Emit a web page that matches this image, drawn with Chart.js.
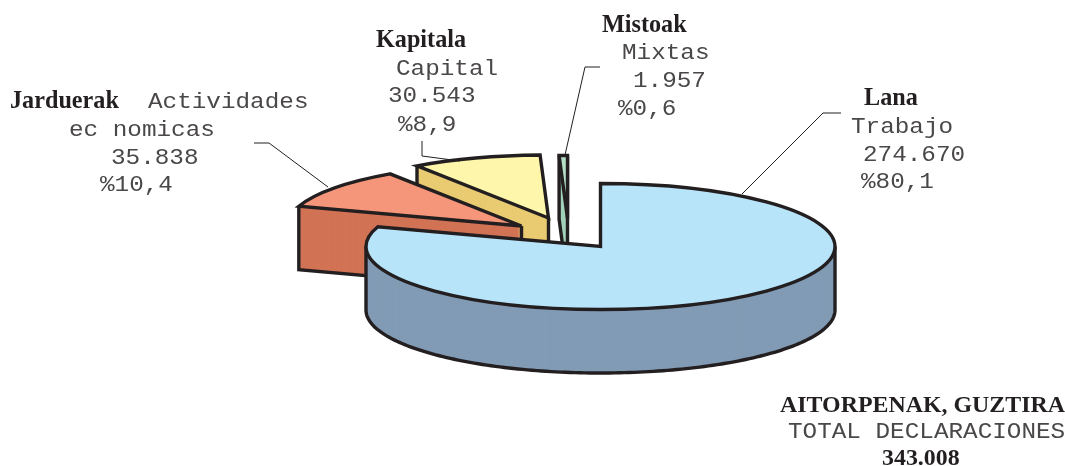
<!DOCTYPE html>
<html><head><meta charset="utf-8">
<style>html,body{margin:0;padding:0;background:#fff;overflow:hidden}#w{position:relative;width:1065px;height:466px}canvas{display:block}</style>
<script src="https://cdn.jsdelivr.net/npm/chart.js@4/dist/chart.umd.min.js"></script>
</head><body><div id="w"><canvas id="c" width="1065" height="466"></canvas></div>
<script>
const categories = ['Lana', 'Jarduerak', 'Kapitala', 'Mistoak'];
const values = [274670, 35838, 30543, 1957];
const valueLabels = ['274.670', '35.838', '30.543', '1.957'];
const percentLabels = ['%80,1', '%10,4', '%8,9', '%0,6'];
const topColours = ['#b8e4fa', '#f5967a', '#fef7ab', '#b4e0c8'];
const sideColours = ['#829bb5', '#d27355', '#e9cb72', '#a3d2ba'];

const INK = '#231f20';
const pie3d = {cx: 600.5, cy: 246.5, rx: 234.5, ry: 63, depth: 63.5, line: 3.4,
  shift: [[0,0],[-79,-20.5],[-52,-28.5],[-33,-28]], order: [3,2,1,0]};
const leaders = [
  [[742,194],[823,113],[841,113]],
  [[254,143],[269,143],[328,187]],
  [[422,141],[422,156],[460,161]],
  [[600,67],[585,67],[565,155]]
];
const SERIF = 'bold 24.2px "Liberation Serif"';
const SERIF2 = 'bold 23.9px "Liberation Serif"';
const MONO = '22px "Liberation Mono"';
const MONO_STRETCH = 1.105;
const texts = [
  ['Jarduerak',SERIF,10,108],['Actividades',MONO,148,108],['ec nomicas',MONO,69,136],[valueLabels[1],MONO,111,164],[percentLabels[1],MONO,100,191],
  ['Kapitala',SERIF,376,47],['Capital',MONO,396,75],[valueLabels[2],MONO,388,102],[percentLabels[2],MONO,398,131],
  ['Mistoak',SERIF,602,32],['Mixtas',MONO,622,59],[valueLabels[3],MONO,633,87],[percentLabels[3],MONO,618,115],
  ['Lana',SERIF,864,105],['Trabajo',MONO,851,133],[valueLabels[0],MONO,863,161],[percentLabels[0],MONO,861,188],
  ['AITORPENAK, GUZTIRA',SERIF2,780,412],['TOTAL DECLARACIONES',MONO,788,438],['343.008',SERIF2,882,465]
];

function wedge(ctx, arc, rx, ry, x, y) {
  ctx.beginPath();
  ctx.moveTo(x, y);
  ctx.ellipse(x, y, rx, ry, 0, arc.startAngle, arc.endAngle);
  ctx.closePath();
}

// lower edge of the extruded body: the lower hull of the wedge's outline
function lowerHull(arc, rx, ry, x, y) {
  const pts = [[x, y]];
  const n = 240;
  for (let k = 0; k <= n; k++) {
    const t = arc.startAngle + (arc.endAngle - arc.startAngle) * k / n;
    pts.push([x + rx * Math.cos(t), y + ry * Math.sin(t)]);
  }
  pts.sort((a, b) => a[0] - b[0] || a[1] - b[1]);
  const hull = [];
  for (const p of pts) {
    while (hull.length >= 2) {
      const a = hull[hull.length - 2], b = hull[hull.length - 1];
      if ((b[0] - a[0]) * (p[1] - a[1]) - (b[1] - a[1]) * (p[0] - a[0]) >= 0) hull.pop(); else break;
    }
    hull.push(p);
  }
  return hull;
}

const draw3d = {
  id: 'draw3d',
  beforeDatasetsDraw(chart) {
    const ctx = chart.ctx, arcs = chart.getDatasetMeta(0).data, p = pie3d;
    ctx.save();
    ctx.lineJoin = 'miter';
    ctx.miterLimit = 4;
    ctx.strokeStyle = INK;
    ctx.lineWidth = p.line;
    for (const i of p.order) {
      const arc = arcs[i].getProps(['startAngle','endAngle','outerRadius'], true);
      const sx = p.rx / arc.outerRadius, sy = p.ry / arc.outerRadius;
      const rx = arc.outerRadius * sx, ry = arc.outerRadius * sy;
      const x = p.cx + p.shift[i][0], y = p.cy + p.shift[i][1];
      ctx.fillStyle = sideColours[i];
      for (let d = p.depth; d >= 1; d--) { wedge(ctx, arc, rx, ry, x, y + d); ctx.fill(); }
      const hull = lowerHull(arc, rx, ry, x, y);
      ctx.beginPath();
      ctx.moveTo(hull[0][0], hull[0][1]);
      for (const q of hull) ctx.lineTo(q[0], q[1] + p.depth);
      ctx.lineTo(hull[hull.length - 1][0], hull[hull.length - 1][1]);
      ctx.stroke();
      wedge(ctx, arc, rx, ry, x, y);
      ctx.fillStyle = arcs[i].options.backgroundColor;
      ctx.fill();
      ctx.stroke();
    }
    ctx.restore();
    return false;
  },
  afterDraw(chart) {
    const ctx = chart.ctx;
    ctx.save();
    ctx.strokeStyle = INK; ctx.lineWidth = 1;
    for (const l of leaders) {
      ctx.beginPath();
      l.forEach((pt, k) => k ? ctx.lineTo(pt[0], pt[1]) : ctx.moveTo(pt[0], pt[1]));
      ctx.stroke();
    }
    ctx.textBaseline = 'alphabetic'; ctx.textAlign = 'left';
    for (const [s, font, x, y] of texts) {
      ctx.font = font;
      if (font === MONO) {
        ctx.fillStyle = '#4a4748';
        ctx.save();
        ctx.translate(x, y);
        ctx.scale(MONO_STRETCH, 1);
        ctx.fillText(s, 0, 0);
        ctx.restore();
      } else {
        ctx.fillStyle = INK;
        ctx.fillText(s, x, y);
      }
    }
    ctx.restore();
  }
};

new Chart(document.getElementById('c'), {
  type: 'pie',
  data: {labels: categories, datasets: [{data: values, backgroundColor: topColours, borderWidth: 0}]},
  options: {responsive: false, animation: false, layout: {padding: 0},
    plugins: {legend: {display: false}, tooltip: {enabled: false}, title: {display: false}}},
  plugins: [draw3d]
});
</script></body></html>
